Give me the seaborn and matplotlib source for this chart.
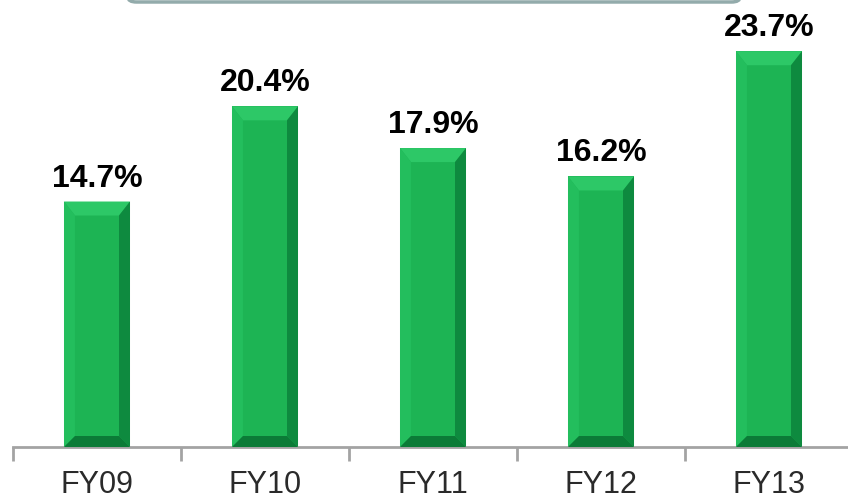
import matplotlib
matplotlib.use("Agg")
import matplotlib.pyplot as plt
import seaborn as sns
import pandas as pd
from matplotlib.patches import Polygon, FancyBboxPatch

categories = ["FY09", "FY10", "FY11", "FY12", "FY13"]
values = [14.7, 20.4, 17.9, 16.2, 23.7]
labels = ["14.7%", "20.4%", "17.9%", "16.2%", "23.7%"]

sns.set_theme(style="white")
plt.rcParams['font.family'] = ['Liberation Sans', 'DejaVu Sans']

W, H = 848, 502
fig = plt.figure(figsize=(W / 100, H / 100), dpi=100)
axis_y = 448
px_per_unit = 16.7
ax = fig.add_axes([13 / W, (H - axis_y) / H, 840 / W, axis_y / H])

df = pd.DataFrame({"cat": categories, "val": values})
sns.barplot(data=df, x="cat", y="val", color="#1db454", width=0.393,
            saturation=1, ax=ax, linewidth=0)

ax.set_xlim(-0.5, 4.5)
ax.set_ylim(0, axis_y / px_per_unit)

# bevel effect derived from bar geometry
bx = 11 / 168.0
by_top = 14 / px_per_unit
by_bot = 11 / px_per_unit
for p in ax.patches:
    x0 = p.get_x(); w = p.get_width(); x1 = x0 + w
    y0 = p.get_y(); y1 = y0 + p.get_height()
    ix0, ix1, iy0, iy1 = x0 + bx, x1 - bx, y0 + by_bot, y1 - by_top
    polys = [
        ([(x0, y1), (x1, y1), (ix1, iy1), (ix0, iy1)], "#2dc867"),   # top
        ([(x0, y0), (x0, y1), (ix0, iy1), (ix0, iy0)], "#23be5d"),   # left
        ([(x1, y0), (x1, y1), (ix1, iy1), (ix1, iy0)], "#0e8a3f"),   # right
        ([(x0, y0), (x1, y0), (ix1, iy0), (ix0, iy0)], "#0b7b37"),   # bottom
    ]
    for pts, c in polys:
        ax.add_patch(Polygon(pts, closed=True, facecolor=c, edgecolor="none", zorder=3))

for i, (v, lab) in enumerate(zip(values, labels)):
    ax.annotate(lab, (i, v), xytext=(0, 9), textcoords="offset pixels",
                ha="center", va="bottom", fontsize=23, fontweight="bold",
                color="black", zorder=5)

for s in ["top", "right", "left"]:
    ax.spines[s].set_visible(False)
ax.spines["bottom"].set_color("#a3a3a3")
ax.spines["bottom"].set_linewidth(2)
ax.set_yticks([])
ax.set_xlabel("")
ax.set_ylabel("")
ax.set_xticks(range(len(categories)))
ax.set_xticklabels(categories, fontsize=22, color="#2a2a2a")
ax.tick_params(axis="x", which="major", length=0, pad=16)
ax.set_xticks([i - 0.5 for i in range(len(categories) + 1)], minor=True)
ax.tick_params(axis="x", which="minor", length=10, width=2, color="#a3a3a3",
               direction="out", bottom=True)

# partial box at top of the slide
box = FancyBboxPatch((128 / W, (H - 3) / H), (740 - 128) / W, 60 / H,
                     boxstyle="round,pad=0,rounding_size=0.01",
                     transform=fig.transFigure, facecolor="#f6f8f8",
                     edgecolor="#93abab", linewidth=2.5, zorder=0)
fig.patches.append(box)

fig.savefig("out.png", dpi=100)
